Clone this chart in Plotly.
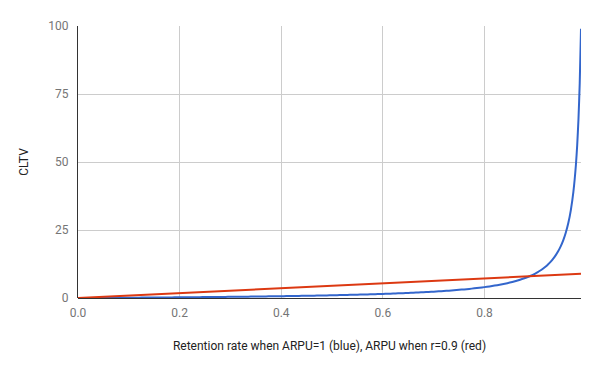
import plotly.graph_objects as go

# Blue series: CLTV vs retention rate (ARPU = 1)
retention = [0.00, 0.01, 0.02, 0.03, 0.04, 0.05, 0.06, 0.07, 0.08, 0.09,
             0.10, 0.11, 0.12, 0.13, 0.14, 0.15, 0.16, 0.17, 0.18, 0.19,
             0.20, 0.21, 0.22, 0.23, 0.24, 0.25, 0.26, 0.27, 0.28, 0.29,
             0.30, 0.31, 0.32, 0.33, 0.34, 0.35, 0.36, 0.37, 0.38, 0.39,
             0.40, 0.41, 0.42, 0.43, 0.44, 0.45, 0.46, 0.47, 0.48, 0.49,
             0.50, 0.51, 0.52, 0.53, 0.54, 0.55, 0.56, 0.57, 0.58, 0.59,
             0.60, 0.61, 0.62, 0.63, 0.64, 0.65, 0.66, 0.67, 0.68, 0.69,
             0.70, 0.71, 0.72, 0.73, 0.74, 0.75, 0.76, 0.77, 0.78, 0.79,
             0.80, 0.81, 0.82, 0.83, 0.84, 0.85, 0.86, 0.87, 0.88, 0.89,
             0.90, 0.905, 0.91, 0.915, 0.92, 0.925, 0.93, 0.935, 0.94, 0.945,
             0.95, 0.955, 0.96, 0.965, 0.97, 0.975, 0.98, 0.9825, 0.985, 0.9875, 0.99]
cltv_blue = [0.0, 0.0101, 0.0204, 0.0309, 0.0417, 0.0526, 0.0638, 0.0753, 0.0870, 0.0989,
             0.1111, 0.1236, 0.1364, 0.1494, 0.1628, 0.1765, 0.1905, 0.2048, 0.2195, 0.2346,
             0.25, 0.2658, 0.2821, 0.2987, 0.3158, 0.3333, 0.3514, 0.3699, 0.3889, 0.4085,
             0.4286, 0.4493, 0.4706, 0.4925, 0.5152, 0.5385, 0.5625, 0.5873, 0.6129, 0.6393,
             0.6667, 0.6949, 0.7241, 0.7544, 0.7857, 0.8182, 0.8519, 0.8868, 0.9231, 0.9608,
             1.0, 1.0408, 1.0833, 1.1277, 1.1739, 1.2222, 1.2727, 1.3256, 1.3810, 1.4390,
             1.5, 1.5641, 1.6316, 1.7027, 1.7778, 1.8571, 1.9412, 2.0303, 2.125, 2.2258,
             2.3333, 2.4483, 2.5714, 2.7037, 2.8462, 3.0, 3.1667, 3.3478, 3.5455, 3.7619,
             4.0, 4.2632, 4.5556, 4.8824, 5.25, 5.6667, 6.1429, 6.6923, 7.3333, 8.0909,
             9.0, 9.5263, 10.1111, 10.7647, 11.5, 12.3333, 13.2857, 14.3846, 15.6667, 17.1818,
             19.0, 21.2222, 24.0, 27.5714, 32.3333, 39.0, 49.0, 56.1429, 65.6667, 79.0, 99.0]

# Red series: CLTV vs ARPU (r = 0.9)
arpu = [0.0, 0.1, 0.2, 0.3, 0.4, 0.5, 0.6, 0.7, 0.8, 0.9, 0.99]
cltv_red = [0.0, 0.9, 1.8, 2.7, 3.6, 4.5, 5.4, 6.3, 7.2, 8.1, 8.91]

x_ticks = [0.0, 0.2, 0.4, 0.6, 0.8]
y_ticks = [0, 25, 50, 75, 100]

fig = go.Figure()
fig.add_trace(go.Scatter(x=retention, y=cltv_blue, mode="lines",
                         line=dict(color="#3366CC", width=2, shape="spline", smoothing=0.5),
                         name="Retention"))
fig.add_trace(go.Scatter(x=arpu, y=cltv_red, mode="lines",
                         line=dict(color="#DC3912", width=2), name="ARPU"))

font = "Roboto, Arial, sans-serif"
fig.update_layout(
    width=600, height=371,
    margin=dict(l=70, r=27, t=18, b=81),
    paper_bgcolor="white", plot_bgcolor="white",
    showlegend=False,
    font=dict(family=font, size=12, color="#222222"),
    xaxis=dict(
        range=[0, 0.99], tickvals=x_ticks, ticktext=[f"{v:.1f}" for v in x_ticks],
        showgrid=True, gridcolor="#cccccc", gridwidth=1,
        showline=False, zeroline=False,
        tickfont=dict(family=font, size=12, color="#757575"),
        ticks="", ticklabelstandoff=6,
        title=dict(text="Retention rate when ARPU=1 (blue), ARPU when r=0.9 (red)",
                   font=dict(family=font, size=12, color="#222222"), standoff=22),
        automargin=False,
    ),
    yaxis=dict(
        range=[0, 100], tickvals=y_ticks, ticktext=[str(v) for v in y_ticks],
        showgrid=True, gridcolor="#cccccc", gridwidth=1,
        showline=True, linecolor="#333333", linewidth=1,
        zeroline=True, zerolinecolor="#333333", zerolinewidth=1,
        tickfont=dict(family=font, size=12, color="#757575"),
        ticks="", ticklabelstandoff=6,
        title=dict(text="CLTV", font=dict(family=font, size=12, color="#222222"), standoff=17),
        automargin=False,
    ),
)

fig.write_html("out.html")
